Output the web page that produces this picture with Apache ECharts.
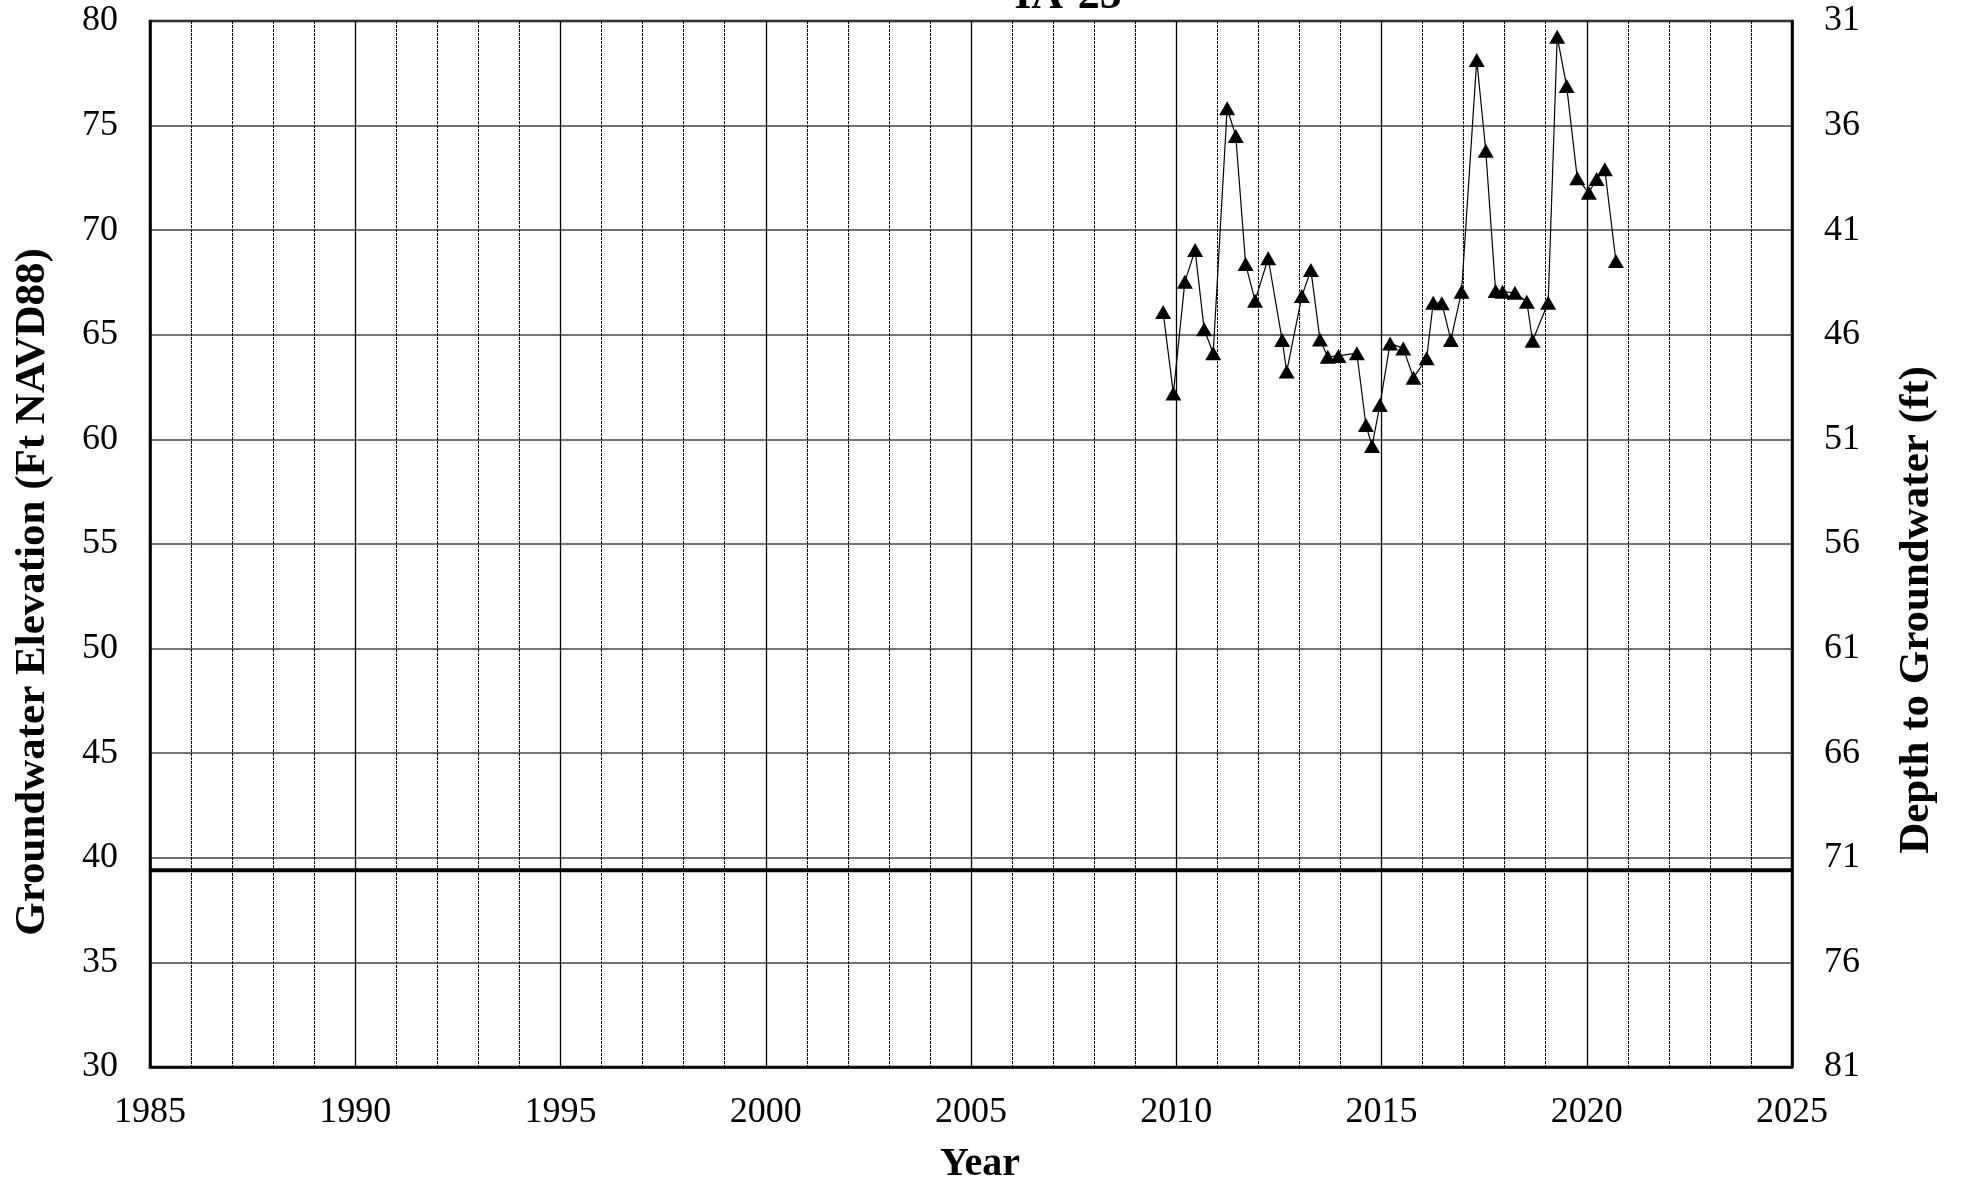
<!DOCTYPE html>
<html>
<head>
<meta charset="utf-8">
<script src="https://cdn.jsdelivr.net/npm/echarts@6/dist/echarts.min.js"></script>
<style>
html,body{margin:0;padding:0;background:#fff;}
#chart{width:1961px;height:1183px;}
</style>
</head>
<body>
<div id="chart"></div>
<script>
const titleText = "IA-25";
const xAxisTitle = "Year";
const leftAxisTitle = "Groundwater Elevation (Ft NAVD88)";
const rightAxisTitle = "Depth to Groundwater (ft)";

const dates = [2009.68, 2009.93, 2010.21, 2010.46, 2010.68, 2010.90, 2011.24, 2011.45, 2011.69, 2011.92,
  2012.24, 2012.58, 2012.69, 2013.06, 2013.28, 2013.50, 2013.69, 2013.95, 2014.40, 2014.62,
  2014.77, 2014.96, 2015.21, 2015.53, 2015.78, 2016.10, 2016.26, 2016.47, 2016.69, 2016.95,
  2017.32, 2017.54, 2017.78, 2017.95, 2018.25, 2018.54, 2018.68, 2019.06, 2019.28, 2019.51,
  2019.77, 2020.05, 2020.24, 2020.44, 2020.71];
const elevations = [66.09, 62.20, 67.54, 69.05, 65.26, 64.12, 75.83, 74.50, 68.38, 66.63,
  68.66, 64.75, 63.24, 66.85, 68.10, 64.78, 63.95, 63.99, 64.12, 60.69,
  59.68, 61.64, 64.59, 64.35, 62.95, 63.88, 66.53, 66.51, 64.75, 67.06,
  78.14, 73.80, 67.09, 67.06, 67.01, 66.58, 64.72, 66.53, 79.25, 76.89,
  72.48, 71.79, 72.45, 72.91, 68.53];
const referenceLevel = 39.4;
const xRange = [1985, 2025];
const leftRange = [30, 80];
const rightRange = [31, 81];

const font = "'Liberation Serif', 'Times New Roman', serif";
const chart = echarts.init(document.getElementById('chart'));
const points = dates.map((d, i) => [d, elevations[i]]);

chart.setOption({
  animation: false,
  backgroundColor: '#fff',
  grid: {left: 150, top: 21, right: 169, bottom: 116, show: true, borderColor: '#000', borderWidth: 2.5, backgroundColor: 'transparent'},
  xAxis: {
    type: 'value', min: xRange[0], max: xRange[1], interval: 5,
    axisLine: {show: true, lineStyle: {color: '#000', width: 2.5}},
    axisTick: {show: false},
    axisLabel: {fontFamily: font, fontSize: 36, color: '#000', margin: 28, formatter: v => String(v)},
    splitLine: {show: true, lineStyle: {color: '#000', width: 1.3}},
    minorTick: {show: false, splitNumber: 5},
    minorSplitLine: {show: true, lineStyle: {color: '#000', width: 1, type: [3, 1]}}
  },
  yAxis: [{
    type: 'value', min: leftRange[0], max: leftRange[1], interval: 5,
    axisLine: {show: true, lineStyle: {color: '#000', width: 2.5}},
    axisTick: {show: false},
    axisLabel: {fontFamily: font, fontSize: 36, color: '#000', margin: 32},
    splitLine: {show: true, lineStyle: {color: '#444', width: 1.5}}
  }, {
    type: 'value', min: rightRange[0], max: rightRange[1], interval: 5, inverse: true,
    position: 'right',
    axisLine: {show: true, lineStyle: {color: '#000', width: 2.5}},
    axisTick: {show: false},
    axisLabel: {fontFamily: font, fontSize: 36, color: '#000', margin: 32},
    splitLine: {show: false}
  }],
  series: [{
    type: 'line',
    data: xRange.map(x => [x, referenceLevel]),
    symbol: 'none',
    lineStyle: {color: '#000', width: 4},
    z: 3
  }, {
    type: 'line',
    data: points,
    symbol: 'triangle',
    symbolSize: [16, 14],
    itemStyle: {color: '#000'},
    lineStyle: {color: '#000', width: 1.2},
    z: 4
  }],
  graphic: [
    {type: 'text', x: 1068, y: -3, style: {text: titleText, font: 'bold 44px ' + font, fill: '#000', textAlign: 'center', textVerticalAlign: 'middle'}},
    {type: 'text', x: 980, y: 1165, style: {text: xAxisTitle, font: 'bold 40px ' + font, fill: '#000', textAlign: 'center', textVerticalAlign: 'middle'}},
    {type: 'text', x: 33, y: 592, rotation: Math.PI / 2, style: {text: leftAxisTitle, font: 'bold 43px ' + font, fill: '#000', textAlign: 'center', textVerticalAlign: 'middle'}},
    {type: 'text', x: 1917, y: 610, rotation: Math.PI / 2, style: {text: rightAxisTitle, font: 'bold 43px ' + font, fill: '#000', textAlign: 'center', textVerticalAlign: 'middle'}}
  ]
});
</script>
</body>
</html>
